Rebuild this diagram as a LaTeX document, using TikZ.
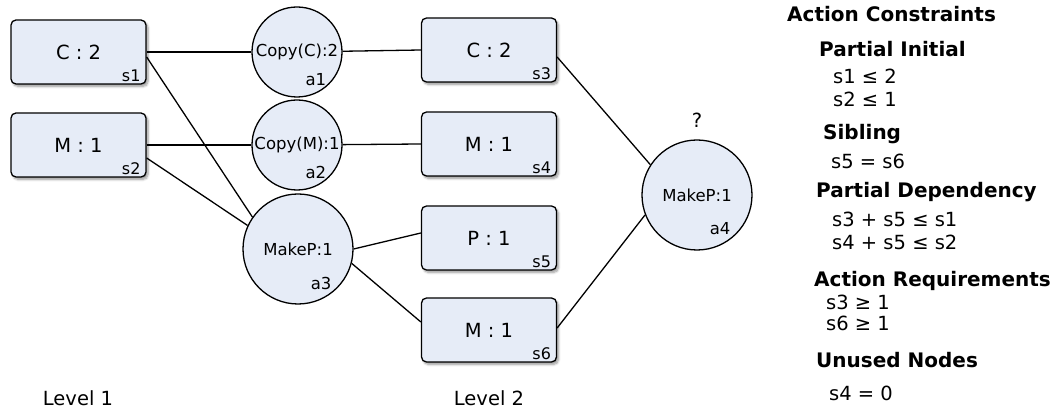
\documentclass[tikz,border=0pt]{standalone}
\usepackage{fontspec}
\setmainfont{DejaVu Sans}
\usetikzlibrary{shadows.blur}
\definecolor{nodefill}{HTML}{E6ECF7}

\tikzset{
  state/.style={draw, line width=1.3pt, rounded corners=5pt, fill=nodefill,
    minimum width=135pt, minimum height=64pt, font=\fontsize{19.5}{22}\selectfont,
    blur shadow={shadow xshift=2pt, shadow yshift=-2.5pt, shadow opacity=40, shadow blur steps=6},
    label={[tag]south east:#1}},
  tag/.style={anchor=south east, xshift=-4pt, yshift=1pt, inner sep=2pt,
    font=\fontsize{16}{18}\selectfont},
  action/.style 2 args={draw, circle, line width=1.3pt, fill=nodefill, inner sep=0pt,
    minimum size=#1, font=\fontsize{16.5}{18}\selectfont,
    label={[anchor=center, xshift=0.21*#1, yshift=-0.31*#1, font=\fontsize{16.5}{18}\selectfont]center:#2}},
  link/.style={line width=1.3pt},
  head/.style={anchor=west, inner sep=0pt, font=\fontsize{20}{22}\selectfont\bfseries},
  rule/.style={anchor=west, inner sep=0pt, font=\fontsize{19.5}{22}\selectfont},
}

\begin{document}
\begin{tikzpicture}[x=1pt, y=-1pt]
\useasboundingbox (0,0) rectangle (1058,411);

% level 1 states
\node[state=s1] (s1) at (78.5,52) {C : 2};
\node[state=s2] (s2) at (78.5,145) {M : 1};

% actions
\node[action={90pt}{a1}] (a1) at (297,52) {Copy(C):2};
\node[action={90pt}{a2}] (a2) at (297,145) {Copy(M):1};
\node[action={110pt}{a3}] (a3) at (298,249) {MakeP:1};
\node[action={110pt}{a4}] (a4) at (697,195) {MakeP:1};
\node[font=\fontsize{19.5}{22}\selectfont] (q) at (697,120) {?};

% level 2 states
\node[state=s3] (s3) at (489,50) {C : 2};
\node[state=s4] (s4) at (489,144) {M : 1};
\node[state=s5] (s5) at (489,238) {P : 1};
\node[state=s6] (s6) at (489,330) {M : 1};

% edges
\draw[link] (s1) -- (a1);
\draw[link] (a1) -- (s3.west);
\draw[link] ([yshift=-5pt]s1.east) -- (a3.145);
\draw[link] (s2) -- (a2);
\draw[link] (a2) -- (s4.west);
\draw[link] ([yshift=-13pt]s2.east) -- (a3.155);
\draw[link] (a3.east) -- ([yshift=5pt]s5.west);
\draw[link] (a3.-15) -- ([yshift=8pt]s6.west);
\draw[link] ([yshift=-7pt]s3.east) -- (a4.147);
\draw[link] ([yshift=2pt]s6.east) -- (a4.-159);

\node[font=\fontsize{19.5}{22}\selectfont] (lv1) at (78,398) {Level 1};
\node[font=\fontsize{19.5}{22}\selectfont] (lv2) at (489,398) {Level 2};

% constraints
\node[head] (c0) at (787,14) {Action Constraints};
\node[head] (c1) at (819,49) {Partial Initial};
\node[rule] (c1a) at (833,76) {s1 ≤ 2};
\node[rule] (c1b) at (833,99) {s2 ≤ 1};
\node[head] (c2) at (823,134) {Sibling};
\node[rule] (c2a) at (831,161) {s5 = s6};
\node[head] (c3) at (816,192) {Partial Dependency};
\node[rule] (c3a) at (832,219) {s3 + s5 ≤ s1};
\node[rule] (c3b) at (832,242) {s4 + s5 ≤ s2};
\node[head] (c4) at (814,281) {Action Requirements};
\node[rule] (c4a) at (826,302) {s3 ≥ 1};
\node[rule] (c4b) at (826,323) {s6 ≥ 1};
\node[head] (c5) at (816,360) {Unused Nodes};
\node[rule] (c5a) at (829,393) {s4 = 0};
\end{tikzpicture}
\end{document}
